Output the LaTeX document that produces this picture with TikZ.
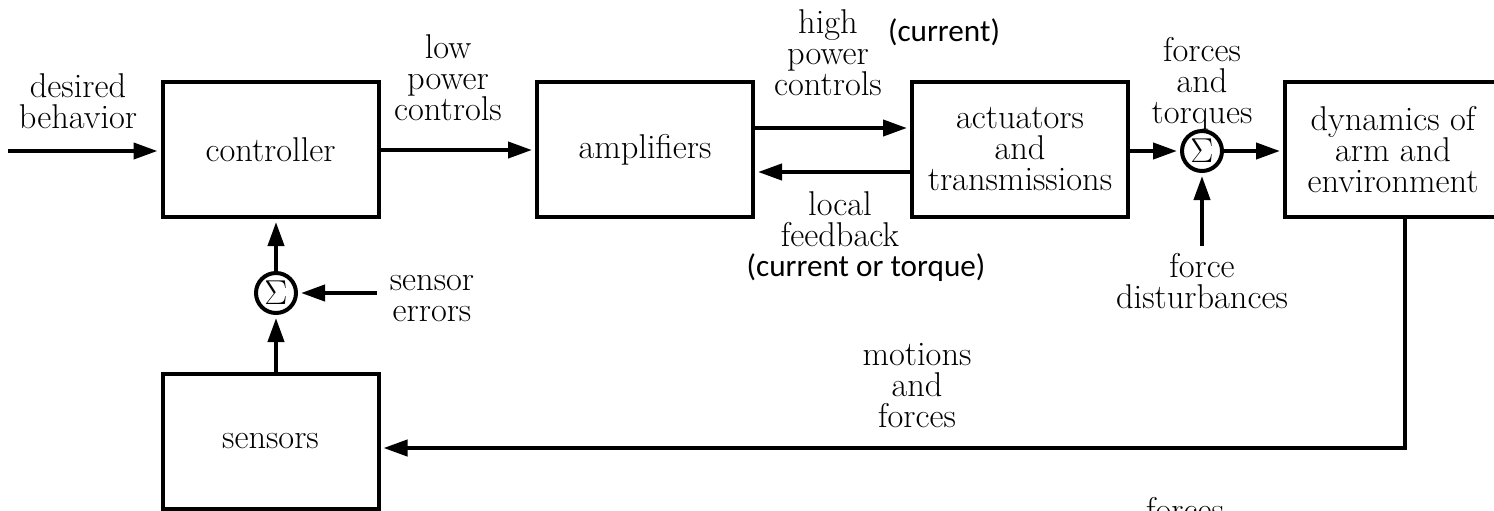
\documentclass[tikz,border=0pt]{standalone}
\usepackage{fontspec}
\newfontfamily\calib{Carlito}
\usetikzlibrary{arrows.meta}
\newcommand\stk[1]{\vtop{\baselineskip=15.5pt\lineskiplimit=-100pt\halign{\hfil##\hfil\cr#1\crcr}}}
\tikzset{
  lbl/.style={font=\fontsize{17.2pt}{15.5pt}\selectfont, inner sep=0pt, anchor=base},
  sanslbl/.style={font=\calib\fontsize{15.6pt}{15.6pt}\selectfont, inner sep=0pt, anchor=base},
  blk/.style={draw, line width=2pt, minimum width=108pt, minimum height=67.5pt,
    font=\fontsize{17.2pt}{15.5pt}\selectfont, inner sep=0pt},
  sumnode/.style={draw, circle, line width=2pt, minimum size=20pt, inner sep=0pt,
    font=\fontsize{17pt}{17pt}\selectfont},
  arr/.style={line width=2pt, -{Triangle[length=12pt,width=8pt]}, shorten >=1.5pt},
  wire/.style={line width=2pt}
}
\begin{document}
\begin{tikzpicture}[x=0.5pt,y=-0.5pt]
\useasboundingbox (0,0) rectangle (1494,510);
% blocks
\node[blk] (ctrl) at (270.5,149.5) {controller};
\node[blk] (amp) at (645,149.5) {amplifiers};
\node[blk] (act) at (1020,149.5) {\stk{actuators\cr and\cr transmissions}};
\node[blk] (dyn) at (1393,149.5) {\stk{dynamics of\cr arm and\cr environment}};
\node[blk] (sens) at (270.5,441) {sensors};
\node[sumnode] (sum1) at (1202,151) {$\Sigma$};
\node[sumnode] (sum2) at (276,293) {$\Sigma$};
% free ends
\coordinate (in) at (8,151);
\coordinate (hp) at (830,128);
\coordinate (lf) at (830,172);
\coordinate (dist) at (1202,246);
\coordinate (fb) at (1405,448);
\coordinate (se) at (377,293);
% connectors
\draw[arr] (in) -- (ctrl.west |- in);
\draw[arr] (ctrl.east |- 0,150) -- (amp.west |- 0,150);
\draw[arr] (amp.east |- hp) -- (act.west |- hp);
\draw[arr] (act.west |- lf) -- (amp.east |- lf);
\draw[arr] (act.east |- sum1) -- (sum1.west);
\draw[arr] (sum1.east) -- (dyn.west |- sum1);
\draw[arr] (dist) -- (sum1.south);
\draw[arr] (dyn.south -| fb) -- (fb) -- (sens.east |- fb);
\draw[arr] (sens.north -| sum2) -- (sum2.south);
\draw[arr] (sum2.north) -- (ctrl.south -| sum2);
\draw[arr] (se) -- (sum2.east);
% labels
\node[lbl] (l1) at (78,97) {\stk{desired\cr behavior}};
\node[lbl] (l2) at (448,58) {\stk{low\cr power\cr controls}};
\node[lbl] (l3) at (828,33) {\stk{high\cr power\cr controls}};
\node[sanslbl] (l4) at (944,41) {(current)};
\node[lbl] (l5) at (840,215) {\stk{local\cr feedback}};
\node[sanslbl] (l6) at (866,276) {(current or torque)};
\node[lbl] (l7) at (1202,61) {\stk{forces\cr and\cr torques}};
\node[lbl] (l8) at (1202,277) {\stk{force\cr disturbances}};
\node[lbl] (l9) at (432,290) {\stk{sensor\cr errors}};
\node[lbl] (l10) at (917,365) {\stk{motions\cr and\cr forces}};
\node[lbl] (l11) at (1185,521) {forces};
\end{tikzpicture}
\end{document}
